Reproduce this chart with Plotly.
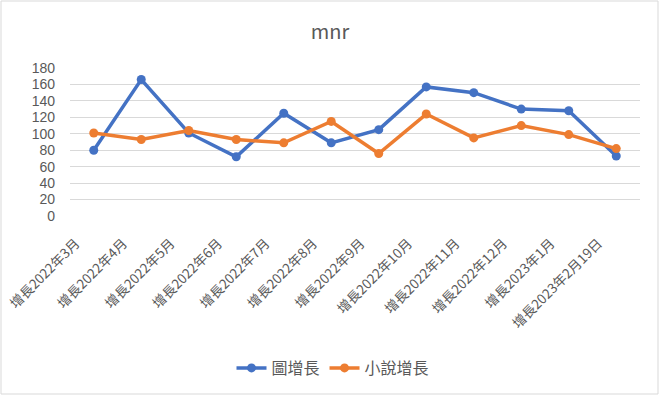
import plotly.graph_objects as go

categories = ["增長2022年3月", "增長2022年4月", "增長2022年5月", "增長2022年6月",
              "增長2022年7月", "增長2022年8月", "增長2022年9月", "增長2022年10月",
              "增長2022年11月", "增長2022年12月", "增長2023年1月", "增長2023年2月19日"]
tu_growth = [80, 166, 101, 72, 125, 89, 105, 157, 150, 130, 128, 73]
novel_growth = [101, 93, 104, 93, 89, 115, 76, 124, 95, 110, 99, 82]
y_ticks = [0, 20, 40, 60, 80, 100, 120, 140, 160, 180]

FONT = "Noto Sans CJK TC, Noto Sans, sans-serif"
GRAY = "#595959"

fig = go.Figure()
fig.add_trace(go.Scatter(x=categories, y=tu_growth, name="圖增長", mode="lines+markers",
                         line=dict(color="#4472C4", width=3.5),
                         marker=dict(color="#4472C4", size=9)))
fig.add_trace(go.Scatter(x=categories, y=novel_growth, name="小說增長", mode="lines+markers",
                         line=dict(color="#ED7D31", width=3.5),
                         marker=dict(color="#ED7D31", size=9)))

L, R, T, B = 70, 20, 68, 180
W, H = 660, 396
pw, ph = W - L - R, H - T - B

def px(x):
    return (x - L) / pw

def py(y):
    return (H - B - y) / ph

fig.update_layout(
    width=W, height=H,
    margin=dict(l=L, r=R, t=T, b=B, autoexpand=False),
    paper_bgcolor="white", plot_bgcolor="white",
    font=dict(family=FONT, color=GRAY, size=13),
    title=dict(text="mnr", x=0.5, xanchor="center", y=1 - 32 / H, yanchor="middle",
               font=dict(size=20, color=GRAY, family=FONT)),
    showlegend=True,
    legend=dict(orientation="h", x=px(333), xanchor="center", y=py(368), yanchor="middle",
                font=dict(size=16, color=GRAY)),
    xaxis=dict(type="category", tickangle=-45, showgrid=False, showline=False,
               ticks="", tickfont=dict(size=13.5, color=GRAY), range=[-0.5, 11.5],
               automargin=False),
    yaxis=dict(range=[0, 180], tickvals=y_ticks, showgrid=True, gridcolor="#D9D9D9",
               gridwidth=1, zeroline=False, showline=False, ticks="",
               tickfont=dict(size=14, color=GRAY, family="Liberation Sans, Arial, sans-serif"),
               automargin=False),
    shapes=[dict(type="rect", xref="paper", yref="paper",
                 x0=px(1), x1=px(658), y0=py(394), y1=py(1),
                 line=dict(color="#D9D9D9", width=1), layer="below")],
)
fig.update_yaxes(ticklabelstandoff=14)
fig.update_xaxes(ticklabelshift=-18, ticklabelstandoff=16)

fig.write_html("out.html", config={"displayModeBar": False},
               post_script="document.body.style.margin='0px';document.body.style.padding='0px';")
